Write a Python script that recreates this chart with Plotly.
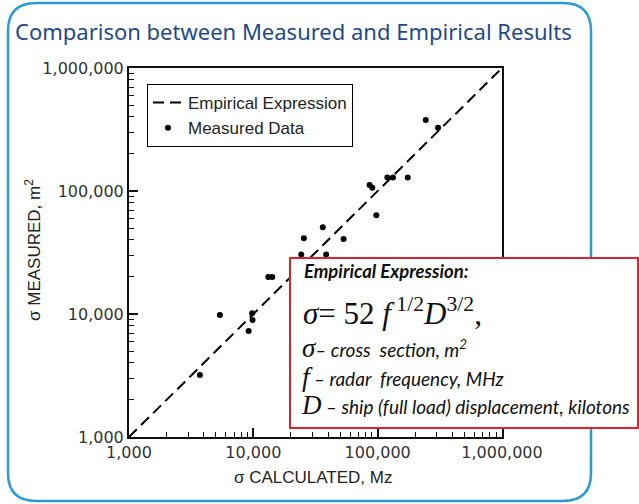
import plotly.graph_objects as go

# ---- data ----
calc = [3715, 5380, 9780, 9860, 9160, 13200, 14200, 24300, 25500, 36200, 38500,
        53200, 97500, 90600, 86100, 119700, 132800, 174600, 243600, 306000]
meas = [3190, 9810, 10130, 8930, 7280, 20000, 20000, 30500, 41200, 50700, 30500,
        40700, 63400, 106400, 112000, 129000, 129000, 129000, 377600, 327000]
line_x = [1000, 1000000]
line_y = [1000, 1000000]
tick_vals = [1000, 10000, 100000, 1000000]
tick_text = ["1,000", "10,000", "100,000", "1,000,000"]
minor_vals = [m * 10 ** k for k in (3, 4, 5) for m in range(2, 10)]

W, H = 639, 504
L, R, T, B = 129, 502, 68, 437


def px(x):
    return (x - L) / (R - L)


def py(y):
    return (B - y) / (B - T)


fig = go.Figure()
fig.add_trace(go.Scatter(x=line_x, y=line_y, mode="lines", name="Empirical Expression",
                         line=dict(color="black", width=2, dash="11px,6px")))
fig.add_trace(go.Scatter(x=calc, y=meas, mode="markers", name="Measured Data",
                         marker=dict(color="black", size=6)))

axis_common = dict(
    type="log", range=[3, 6], showgrid=False, zeroline=False,
    showline=True, mirror=True, linecolor="#111", linewidth=2,
    ticks="inside", ticklen=9, tickwidth=1.5, tickcolor="#111",
    tickvals=tick_vals, ticktext=tick_text,
    tickfont=dict(family="DejaVu Sans", size=16, color="#333"),
    minor=dict(ticks="inside", ticklen=5, tickwidth=1.2, tickcolor="#111", tickvals=minor_vals),
)
fig.update_xaxes(**axis_common)
fig.update_yaxes(**axis_common)

shapes = []
# rounded blue frame
x0, x1, y0, y1, r = px(8), px(591), py(3), py(501), 28
rx, ry = r / (R - L), r / (B - T)
path = (f"M {x0+rx},{y0} L {x1-rx},{y0} Q {x1},{y0} {x1},{y0-ry} "
        f"L {x1},{y1+ry} Q {x1},{y1} {x1-rx},{y1} L {x0+rx},{y1} "
        f"Q {x0},{y1} {x0},{y1+ry} L {x0},{y0-ry} Q {x0},{y0} {x0+rx},{y0} Z")
shapes.append(dict(type="path", xref="paper", yref="paper", path=path,
                   line=dict(color="#2a9bd6", width=2.5), layer="below"))
# red formula box
shapes.append(dict(type="rect", xref="paper", yref="paper",
                   x0=px(290), x1=px(638), y0=py(428), y1=py(258),
                   line=dict(color="#d9232e", width=2), fillcolor="white", layer="above"))

serif = "Liberation Serif"
sans = "Lato"
big = f"font-family:{serif};font-size:27px"
small = f"font-family:{sans};font-size:19px"
legend_lines = "<br>".join([
    f"<span style='{big}'><i>σ</i></span><span style='{small}'><i>– cross  section, m<sup>2</sup></i></span>",
    f"<span style='{big}'><i>f</i></span><span style='{small}'><i> – radar  frequency, MHz</i></span>",
    f"<span style='{big}'><i>D</i></span><span style='{small}'><i> – ship (full load) displacement, kilotons</i></span>",
])
annotations = [
    dict(text="Comparison between Measured and Empirical Results", x=px(13), y=py(31),
         xanchor="left", yanchor="middle", font=dict(family="Noto Sans", size=22, color="#1f4a8a")),
    dict(text="σ CALCULATED, Mz", x=px(313), y=py(477), xanchor="center", yanchor="middle",
         font=dict(family="Liberation Sans", size=17, color="#222")),
    dict(text="σ MEASURED, m<sup>2</sup>", x=px(33), y=py(250), xanchor="center", yanchor="middle",
         textangle=-90, font=dict(family="Liberation Sans", size=17, color="#222")),
    dict(text="<b><i>Empirical Expression:</i></b>", x=px(302), y=py(271), xanchor="left",
         yanchor="middle", font=dict(family=sans, size=18.5, color="#111")),
    dict(text="<i>σ</i>= 52 <i>f</i><sup> 1/2</sup><i>D</i><sup>3/2</sup>,", x=px(301), y=py(311),
         xanchor="left", yanchor="middle", font=dict(family=serif, size=31, color="#111")),
    dict(text=legend_lines, x=px(299), y=py(376), xanchor="left", yanchor="middle", align="left",
         font=dict(family=sans, size=22, color="#111")),
]
for a in annotations:
    a.update(xref="paper", yref="paper", showarrow=False)

fig.update_layout(
    width=W, height=H, margin=dict(l=L, r=W - R, t=T, b=H - B),
    paper_bgcolor="white", plot_bgcolor="white",
    showlegend=True,
    legend=dict(x=px(147), y=py(84), xanchor="left", yanchor="top",
                bgcolor="white", bordercolor="black", borderwidth=1,
                font=dict(family="Liberation Sans", size=17, color="#222"),
                tracegroupgap=0, itemwidth=30),
    shapes=shapes, annotations=annotations,
)
fig.write_html("out.html", config={"displayModeBar": False},
               post_script="document.body.style.margin='0';")
